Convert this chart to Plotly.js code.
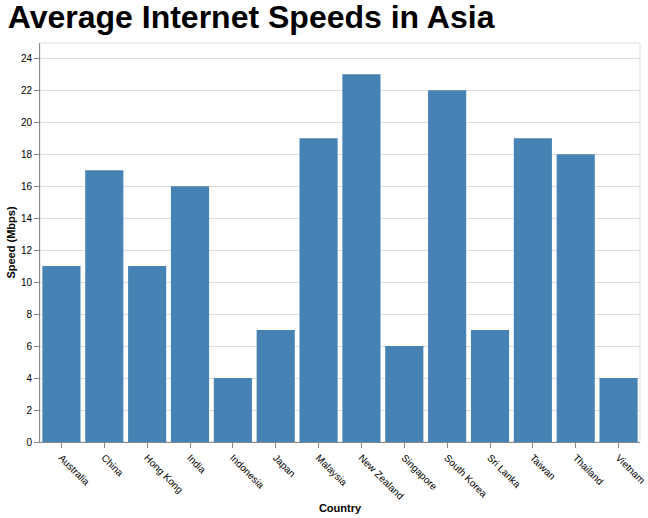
<!DOCTYPE html>
<html>
<head>
<meta charset="utf-8">
<script src="https://cdn.plot.ly/plotly-3.0.1.min.js"></script>
<style>html,body{margin:0;padding:0;background:#fff;}#chart{width:648px;height:518px;}</style>
</head>
<body>
<div id="chart"></div>
<script>
const countries = ["Australia","China","Hong Kong","India","Indonesia","Japan","Malaysia","New Zealand","Singapore","South Korea","Sri Lanka","Taiwan","Thailand","Vietnam"];
const speeds = [11,17,11,16,4,7,19,23,6,22,7,19,18,4];
const yTicks = [0,2,4,6,8,10,12,14,16,18,20,22,24];

const font = "Liberation Sans, Arial, Helvetica, sans-serif";
Plotly.newPlot("chart", [{
  type: "bar",
  x: countries,
  y: speeds,
  marker: {color: "#4682b4"},
  hoverinfo: "x+y"
}], {
  width: 648, height: 518,
  margin: {l: 40, r: 8, t: 43, b: 76},
  paper_bgcolor: "#fff", plot_bgcolor: "#fff",
  bargap: 0.11,
  title: {text: "Average Internet Speeds in Asia", x: 0.012, xanchor: "left", xref: "container",
          y: 0.99, yanchor: "top", yref: "container",
          font: {family: font, size: 32, color: "#000", weight: "bold"}},
  xaxis: {
    title: {text: "Country", font: {family: font, size: 11, color: "#000", weight: "bold"}, standoff: 3},
    tickangle: 45, ticks: "outside", ticklen: 5, tickcolor: "#888",
    tickfont: {family: font, size: 10, color: "#000"},
    showline: true, linecolor: "#888", linewidth: 1, mirror: false,
    showgrid: false, automargin: false
  },
  yaxis: {
    title: {text: "Speed (Mbps)", font: {family: font, size: 11, color: "#000", weight: "bold"}, standoff: 3},
    range: [0, 24.95], tickvals: yTicks, ticks: "outside", ticklen: 5, tickcolor: "#888",
    tickfont: {family: font, size: 10, color: "#000"},
    showline: true, linecolor: "#888", linewidth: 1,
    showgrid: true, gridcolor: "#ddd", gridwidth: 1, zeroline: false, automargin: false
  },
  shapes: [{type: "rect", xref: "paper", yref: "paper", x0: 0, x1: 1, y0: 0, y1: 1,
            line: {color: "#ddd", width: 1}, layer: "below"}],
  showlegend: false
}, {displayModeBar: false, staticPlot: true});
</script>
</body>
</html>
